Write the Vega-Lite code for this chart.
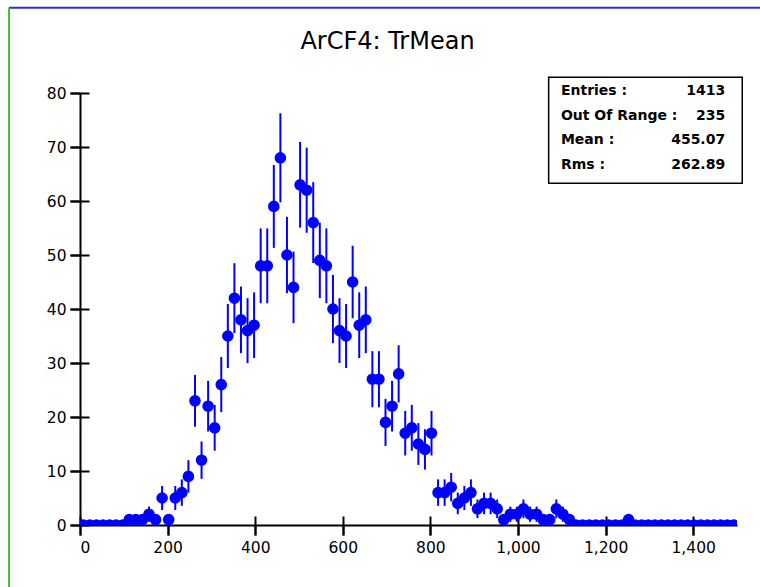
{
  "$schema": "https://vega.github.io/schema/vega-lite/v6.json",
  "width": 657,
  "height": 432,
  "autosize": "none",
  "padding": {"left": 80, "top": 93, "right": 23, "bottom": 62},
  "background": "white",
  "title": {"text": "ArCF4: TrMean", "font": "DejaVu Sans", "fontSize": 24, "fontWeight": "normal", "color": "#000000", "anchor": "middle", "frame": "group", "dx": -21, "offset": -47},
  "config": {
    "view": {"stroke": null},
    "axis": {"domainColor": "#000000", "domainWidth": 2, "tickColor": "#000000", "tickWidth": 2, "tickSize": 10, "labelFont": "DejaVu Sans", "labelFontSize": 15.5, "labelColor": "#000000", "grid": false, "title": null}
  },
  "datasets": {
    "hist": [
      {"x": 7.5, "n": 0, "err": 0}, {"x": 22.5, "n": 0, "err": 0}, {"x": 37.5, "n": 0, "err": 0}, {"x": 52.5, "n": 0, "err": 0},
      {"x": 67.5, "n": 0, "err": 0}, {"x": 82.5, "n": 0, "err": 0}, {"x": 97.5, "n": 0, "err": 0}, {"x": 112.5, "n": 1, "err": 1},
      {"x": 127.5, "n": 1, "err": 1}, {"x": 142.5, "n": 1, "err": 1}, {"x": 157.5, "n": 2, "err": 1.414}, {"x": 172.5, "n": 1, "err": 1},
      {"x": 187.5, "n": 5, "err": 2.236}, {"x": 202.5, "n": 1, "err": 1}, {"x": 217.5, "n": 5, "err": 2.236}, {"x": 232.5, "n": 6, "err": 2.449},
      {"x": 247.5, "n": 9, "err": 3}, {"x": 262.5, "n": 23, "err": 4.796}, {"x": 277.5, "n": 12, "err": 3.464}, {"x": 292.5, "n": 22, "err": 4.69},
      {"x": 307.5, "n": 18, "err": 4.243}, {"x": 322.5, "n": 26, "err": 5.099}, {"x": 337.5, "n": 35, "err": 5.916}, {"x": 352.5, "n": 42, "err": 6.481},
      {"x": 367.5, "n": 38, "err": 6.164}, {"x": 382.5, "n": 36, "err": 6}, {"x": 397.5, "n": 37, "err": 6.083}, {"x": 412.5, "n": 48, "err": 6.928},
      {"x": 427.5, "n": 48, "err": 6.928}, {"x": 442.5, "n": 59, "err": 7.681}, {"x": 457.5, "n": 68, "err": 8.246}, {"x": 472.5, "n": 50, "err": 7.071},
      {"x": 487.5, "n": 44, "err": 6.633}, {"x": 502.5, "n": 63, "err": 7.937}, {"x": 517.5, "n": 62, "err": 7.874}, {"x": 532.5, "n": 56, "err": 7.483},
      {"x": 547.5, "n": 49, "err": 7}, {"x": 562.5, "n": 48, "err": 6.928}, {"x": 577.5, "n": 40, "err": 6.325}, {"x": 592.5, "n": 36, "err": 6},
      {"x": 607.5, "n": 35, "err": 5.916}, {"x": 622.5, "n": 45, "err": 6.708}, {"x": 637.5, "n": 37, "err": 6.083}, {"x": 652.5, "n": 38, "err": 6.164},
      {"x": 667.5, "n": 27, "err": 5.196}, {"x": 682.5, "n": 27, "err": 5.196}, {"x": 697.5, "n": 19, "err": 4.359}, {"x": 712.5, "n": 22, "err": 4.69},
      {"x": 727.5, "n": 28, "err": 5.292}, {"x": 742.5, "n": 17, "err": 4.123}, {"x": 757.5, "n": 18, "err": 4.243}, {"x": 772.5, "n": 15, "err": 3.873},
      {"x": 787.5, "n": 14, "err": 3.742}, {"x": 802.5, "n": 17, "err": 4.123}, {"x": 817.5, "n": 6, "err": 2.449}, {"x": 832.5, "n": 6, "err": 2.449},
      {"x": 847.5, "n": 7, "err": 2.646}, {"x": 862.5, "n": 4, "err": 2}, {"x": 877.5, "n": 5, "err": 2.236}, {"x": 892.5, "n": 6, "err": 2.449},
      {"x": 907.5, "n": 3, "err": 1.732}, {"x": 922.5, "n": 4, "err": 2}, {"x": 937.5, "n": 4, "err": 2}, {"x": 952.5, "n": 3, "err": 1.732},
      {"x": 967.5, "n": 1, "err": 1}, {"x": 982.5, "n": 2, "err": 1.414}, {"x": 997.5, "n": 2, "err": 1.414}, {"x": 1012.5, "n": 3, "err": 1.732},
      {"x": 1027.5, "n": 2, "err": 1.414}, {"x": 1042.5, "n": 2, "err": 1.414}, {"x": 1057.5, "n": 1, "err": 1}, {"x": 1072.5, "n": 1, "err": 1},
      {"x": 1087.5, "n": 3, "err": 1.732}, {"x": 1102.5, "n": 2, "err": 1.414}, {"x": 1117.5, "n": 1, "err": 1}, {"x": 1132.5, "n": 0, "err": 0},
      {"x": 1147.5, "n": 0, "err": 0}, {"x": 1162.5, "n": 0, "err": 0}, {"x": 1177.5, "n": 0, "err": 0}, {"x": 1192.5, "n": 0, "err": 0},
      {"x": 1207.5, "n": 0, "err": 0}, {"x": 1222.5, "n": 0, "err": 0}, {"x": 1237.5, "n": 0, "err": 0}, {"x": 1252.5, "n": 1, "err": 1},
      {"x": 1267.5, "n": 0, "err": 0}, {"x": 1282.5, "n": 0, "err": 0}, {"x": 1297.5, "n": 0, "err": 0}, {"x": 1312.5, "n": 0, "err": 0},
      {"x": 1327.5, "n": 0, "err": 0}, {"x": 1342.5, "n": 0, "err": 0}, {"x": 1357.5, "n": 0, "err": 0}, {"x": 1372.5, "n": 0, "err": 0},
      {"x": 1387.5, "n": 0, "err": 0}, {"x": 1402.5, "n": 0, "err": 0}, {"x": 1417.5, "n": 0, "err": 0}, {"x": 1432.5, "n": 0, "err": 0},
      {"x": 1447.5, "n": 0, "err": 0}, {"x": 1462.5, "n": 0, "err": 0}, {"x": 1477.5, "n": 0, "err": 0}, {"x": 1492.5, "n": 0, "err": 0}
    ],
    "stats": [
      {"labels": ["Entries :", "Out Of Range :", "Mean :", "Rms :"], "values": ["1413", "235", "455.07", "262.89"]}
    ]
  },
  "resolve": {"axis": {"x": "independent", "y": "independent"}},
  "layer": [
    {
      "data": {"name": "stats"},
      "mark": {"type": "rule", "color": "#2e2ec8", "strokeWidth": 2, "clip": false},
      "encoding": {
        "x": {"datum": -162, "type": "quantitative", "axis": null},
        "x2": {"datum": 1560},
        "y": {"datum": 95.8, "type": "quantitative", "axis": null}
      }
    },
    {
      "data": {"name": "stats"},
      "mark": {"type": "rule", "color": "#3cc03c", "strokeWidth": 2, "clip": false},
      "encoding": {
        "x": {"datum": -162, "type": "quantitative", "axis": null},
        "y": {"datum": 95.8, "type": "quantitative", "axis": null},
        "y2": {"datum": -12}
      }
    },
    {
      "data": {"name": "hist"},
      "mark": {"type": "errorbar", "color": "#0000ff", "ticks": false, "rule": {"strokeWidth": 2, "color": "#0000ff"}},
      "encoding": {
        "x": {"field": "x", "type": "quantitative", "scale": {"domain": [0, 1500], "nice": false}, "axis": {"orient": "bottom", "values": [0, 200, 400, 600, 800, 1000, 1200, 1400], "format": ",d", "labelPadding": 5, "title": null}},
        "y": {"field": "n", "type": "quantitative", "scale": {"domain": [0, 80], "nice": false}, "axis": {"orient": "left", "values": [0, 10, 20, 30, 40, 50, 60, 70, 80], "format": "d", "labelPadding": 4, "title": null}},
        "yError": {"field": "err"}
      }
    },
    {
      "data": {"name": "hist"},
      "mark": {"type": "point", "filled": true, "size": 135, "color": "#0000ff", "opacity": 1, "clip": true},
      "encoding": {
        "x": {"field": "x", "type": "quantitative", "axis": {"orient": "bottom", "offset": -9, "tickSize": 19, "labels": false, "domain": false, "values": [0, 200, 400, 600, 800, 1000, 1200, 1400], "title": null}},
        "y": {"field": "n", "type": "quantitative", "axis": {"orient": "left", "offset": -9, "tickSize": 19, "labels": false, "domain": false, "values": [0, 10, 20, 30, 40, 50, 60, 70, 80], "title": null}}
      }
    },
    {
      "data": {"name": "stats"},
      "mark": {"type": "rect", "fill": "#ffffff", "stroke": "#000000", "strokeWidth": 1.5},
      "encoding": {
        "x": {"datum": 1070, "type": "quantitative", "axis": null},
        "x2": {"datum": 1512},
        "y": {"datum": 82.9, "type": "quantitative", "axis": null},
        "y2": {"datum": 63.3}
      }
    },
    {
      "data": {"name": "stats"},
      "mark": {"type": "text", "font": "DejaVu Sans", "fontSize": 14, "fontWeight": "bold", "align": "left", "baseline": "middle", "lineHeight": 24.8, "color": "#000000"},
      "encoding": {
        "x": {"datum": 1098, "type": "quantitative", "axis": null},
        "y": {"datum": 80.4, "type": "quantitative", "axis": null},
        "text": {"field": "labels", "type": "nominal"}
      }
    },
    {
      "data": {"name": "stats"},
      "mark": {"type": "text", "font": "DejaVu Sans", "fontSize": 14, "fontWeight": "bold", "align": "right", "baseline": "middle", "lineHeight": 24.8, "color": "#000000"},
      "encoding": {
        "x": {"datum": 1473, "type": "quantitative", "axis": null},
        "y": {"datum": 80.4, "type": "quantitative", "axis": null},
        "text": {"field": "values", "type": "nominal"}
      }
    }
  ]
}
